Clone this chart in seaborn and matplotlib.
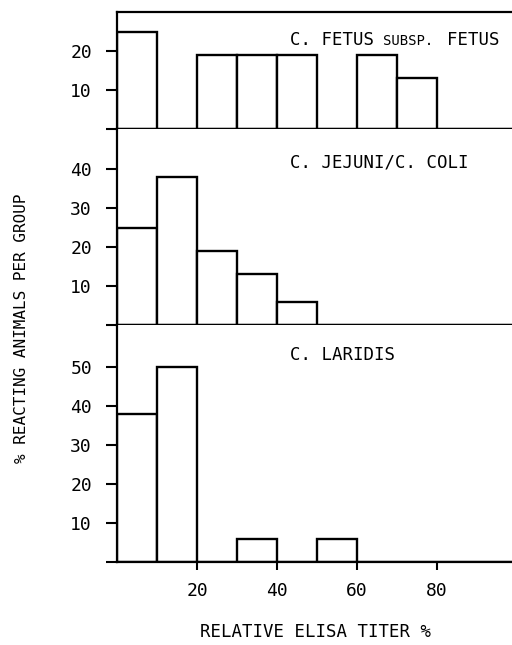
import numpy as np
import matplotlib
matplotlib.use("Agg")
import matplotlib.pyplot as plt
import seaborn as sns

# ---- data ----
bin_edges = [0, 10, 20, 30, 40, 50, 60, 70, 80, 90, 100]
bin_centers = [5, 15, 25, 35, 45, 55, 65, 75, 85, 95]
fetus_vals = [25, 0, 19, 19, 19, 0, 19, 13, 0, 0]
jejuni_vals = [25, 38, 19, 13, 6, 0, 0, 0, 0, 0]
laridis_vals = [38, 50, 0, 6, 0, 6, 0, 0, 0, 0]
panel_names = ["C. JEJUNI/C. COLI", "C. LARIDIS"]
x_ticks = [20, 40, 60, 80]
fetus_yticks = [10, 20]
jejuni_yticks = [10, 20, 30, 40]
laridis_yticks = [10, 20, 30, 40, 50]
x_label = "RELATIVE ELISA TITER %"
y_label = "% REACTING ANIMALS PER GROUP"

sns.set_style("ticks")
plt.rcParams['font.family'] = ['DejaVu Sans Mono', 'DejaVu Sans']
plt.rcParams['axes.linewidth'] = 1.6
plt.rcParams['text.color'] = 'black'
plt.rcParams['xtick.color'] = 'black'
plt.rcParams['ytick.color'] = 'black'

W, H = 512, 645
fig = plt.figure(figsize=(W / 100, H / 100), dpi=100)

left_px = 117
xmax = (W - left_px) / 4.0


def add_axes(top_px, bottom_px):
    return fig.add_axes([left_px / W, 1 - bottom_px / H, 1 - left_px / W,
                         (bottom_px - top_px) / H])


ax_top = add_axes(12, 129)
ax_mid = add_axes(129, 325)
ax_bot = add_axes(325, 562)

panels = [
    (ax_top, fetus_vals, fetus_yticks, 30.0),
    (ax_mid, jejuni_vals, jejuni_yticks, (325 - 129) / 3.9),
    (ax_bot, laridis_vals, laridis_yticks, (562 - 325) / 3.9),
]

for ax, vals, yt, ytop in panels:
    sns.histplot(x=bin_centers, weights=vals, bins=bin_edges, ax=ax,
                 fill=True, color="white", alpha=1, edgecolor="black",
                 linewidth=1.7, stat="count")
    ax.set_xlim(0, xmax)
    ax.set_ylim(0, ytop)
    ax.set_ylabel("")
    ax.set_xlabel("")
    ax.set_yticks([0] + yt)
    ax.set_yticklabels([""] + [str(v) for v in yt], fontsize=13)
    ax.tick_params(axis="y", direction="out", length=8, width=1.5, pad=10,
                   colors="black")
    ax.spines["right"].set_visible(False)
    if ax is not ax_top:
        ax.spines["top"].set_visible(False)
    for s in ax.spines.values():
        s.set_color("black")
    if ax is ax_bot:
        ax.set_xticks(x_ticks)
        ax.set_xticklabels([str(v) for v in x_ticks], fontsize=13)
        ax.tick_params(axis="x", direction="out", length=5.5, width=1.5,
                       pad=9, colors="black")
    else:
        ax.set_xticks([])

# panel labels
def dx(px):
    return (px - left_px) / 4.0

tr_top = ax_top.get_xaxis_transform()
ax_top.text(dx(290), 0.715, "C. FETUS", fontsize=12.5, va="baseline",
            ha="left", transform=tr_top)
ax_top.text(dx(383), 0.715, "SUBSP.", fontsize=10, va="baseline", ha="left",
            transform=tr_top)
ax_top.text(dx(447), 0.715, "FETUS", fontsize=12.5, va="baseline", ha="left",
            transform=tr_top)
ax_mid.text(dx(290), 0.827, panel_names[0], fontsize=12.5, va="center",
            ha="left", transform=ax_mid.get_xaxis_transform())
ax_bot.text(dx(290), 0.873, panel_names[1], fontsize=12.5, va="center",
            ha="left", transform=ax_bot.get_xaxis_transform())

fig.text(315 / W, 1 - 632 / H, x_label, fontsize=12.5, ha="center",
         va="center")
fig.text(22 / W, 1 - 328 / H, y_label, fontsize=11.5, ha="center",
         va="center", rotation=90)

fig.savefig("out.png", dpi=100)
